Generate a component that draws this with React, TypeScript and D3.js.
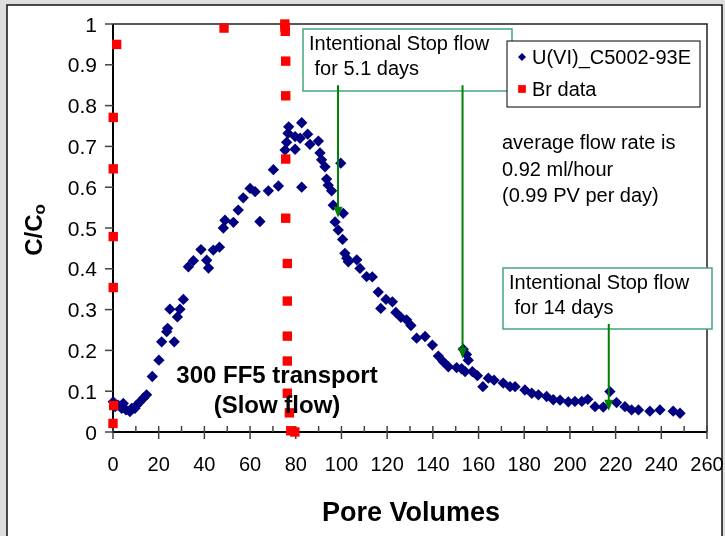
import React, { useRef, useEffect } from 'react';
import * as d3 from 'd3';

// U(VI)_C5002-93E breakthrough (pore volumes, C/Co)
const uPoreVolumes = [
    0.1, 0.9, 2.2, 3.8, 4.5, 5.7, 7.4, 8.2, 9.6, 10.4, 11.8, 13.3, 14.7, 17.2, 20.1, 21.3,
    23.5, 23.9, 24.9, 26.8, 28.2, 29.3, 30.8, 33.0, 35.2, 38.5, 41.0, 41.8, 43.9, 46.6, 48.3,
    49.0, 52.7, 54.8, 57.0, 60.0, 62.2, 64.3, 68.0, 70.2, 72.4, 75.3, 76.0, 76.6, 76.9, 79.7,
    79.7, 81.9, 82.6, 82.6, 85.2, 86.2, 89.9, 90.6, 91.3, 92.8, 93.5, 94.2, 95.7, 96.4, 97.2,
    98.6, 99.7, 100.5, 100.8, 101.5, 102.3, 103.0, 106.7, 108.1, 111.0, 113.5, 116.1, 117.2,
    119.5, 122.3, 123.8, 126.0, 128.5, 130.4, 132.9, 136.6, 139.8, 142.4, 144.6, 146.8, 150.4,
    152.6, 153.3, 154.1, 154.7, 155.5, 157.3, 159.5, 161.9, 164.3, 166.8, 170.8, 173.8, 176.0,
    180.3, 183.3, 186.2, 189.8, 192.7, 195.7, 199.3, 202.2, 205.2, 207.8, 211.0, 214.6, 217.5,
    220.4, 224.1, 227.0, 230.0, 235.0, 239.4, 245.2, 248.2
];
const uConc = [
    0.074, 0.062, 0.066, 0.058, 0.070, 0.054, 0.050, 0.058, 0.058, 0.066, 0.074, 0.083, 0.091, 0.136, 0.176, 0.221,
    0.246, 0.254, 0.301, 0.221, 0.282, 0.301, 0.325, 0.405, 0.420, 0.447, 0.421, 0.402, 0.446, 0.453, 0.500,
    0.519, 0.514, 0.544, 0.574, 0.597, 0.589, 0.516, 0.591, 0.643, 0.603, 0.691, 0.710, 0.732, 0.748, 0.724,
    0.693, 0.720, 0.758, 0.600, 0.730, 0.705, 0.713, 0.684, 0.667, 0.650, 0.620, 0.605, 0.591, 0.556, 0.515,
    0.495, 0.659, 0.472, 0.536, 0.438, 0.426, 0.417, 0.422, 0.401, 0.381, 0.380, 0.343, 0.303,
    0.325, 0.319, 0.293, 0.281, 0.275, 0.261, 0.230, 0.234, 0.213, 0.186, 0.172, 0.160, 0.158,
    0.155, 0.203, 0.148, 0.190, 0.176, 0.148, 0.138, 0.111, 0.132, 0.127, 0.120, 0.111, 0.111,
    0.103, 0.095, 0.091, 0.087, 0.079, 0.078, 0.074, 0.075, 0.075, 0.080, 0.062, 0.061, 0.099,
    0.072, 0.062, 0.054, 0.054, 0.051, 0.054, 0.051, 0.046
];

// Br tracer
const brPoreVolumes = [0, 0.3, 0.1, 0.1, 0.1, 0.1, 1.6, 48.6, 75.2, 75.3, 75.4, 75.6, 75.6, 75.6, 75.6,
    76.3, 76.3, 76.3, 76.3, 76.3, 77.2, 77.8, 79.6];
const brConc = [0.021, 0.065, 0.354, 0.479, 0.645, 0.771, 0.950, 0.990, 1.000, 0.992, 0.982, 0.909, 0.824, 0.669, 0.524,
    0.413, 0.321, 0.235, 0.174, 0.095, 0.047, 0.003, 0.0];

const xTickValues = [0, 20, 40, 60, 80, 100, 120, 140, 160, 180, 200, 220, 240, 260];
const xMinorValues = [10, 30, 50, 70, 90, 110, 130, 150, 170, 190, 210, 230, 250];
const yTickValues = [0, 0.1, 0.2, 0.3, 0.4, 0.5, 0.6, 0.7, 0.8, 0.9, 1];

// stop-flow arrows: pore volume, start C/Co, tip C/Co
const arrowPV = [98.5, 153, 217];
const arrowFrom = [0.85, 0.85, 0.265];
const arrowTo = [0.525, 0.18, 0.052];

const FONT = "'Liberation Sans', Arial, sans-serif";

const App = () => {
    const W = 725, H = 536;
    const plot = { left: 113, right: 707, top: 24, bottom: 432 };

    const xScale = d3.scaleLinear().domain([0, 260]).range([plot.left, plot.right]);
    const yScale = d3.scaleLinear().domain([0, 1]).range([plot.bottom, plot.top]);

    const ref = useRef(null);
    useEffect(() => {
        const svg = d3.select(ref.current);
        svg.selectAll("*").remove();

        svg.append("rect").attr("width", W).attr("height", H).style("fill", "#dedede");
        svg.append("rect").attr("x", 7).attr("y", 5).attr("width", 715).attr("height", 545)
            .style("fill", "white").style("stroke", "#111").style("stroke-width", 1.5);

        // plot frame
        svg.append("path")
            .attr("d", `M${plot.left},${plot.top}H${plot.right}V${plot.bottom}`)
            .style("fill", "none").style("stroke", "#222").style("stroke-width", 1.5);

        // y axis
        svg.append("line").attr("x1", plot.left).attr("x2", plot.left)
            .attr("y1", plot.top).attr("y2", plot.bottom + 1)
            .style("stroke", "black").style("stroke-width", 2);
        svg.selectAll(".ytick").data(yTickValues).enter().append("line")
            .attr("x1", plot.left - 8).attr("x2", plot.left)
            .attr("y1", d => yScale(d)).attr("y2", d => yScale(d))
            .style("stroke", "#444").style("stroke-width", 1.5);
        svg.selectAll(".ylab").data(yTickValues).enter().append("text")
            .attr("x", 97).attr("y", d => yScale(d) + 7.5)
            .attr("text-anchor", "end")
            .style("font-family", FONT).style("font-size", "21px").style("fill", "black")
            .text(d => d3.format("")(+d.toFixed(1)));

        // x axis
        svg.append("line").attr("x1", plot.left).attr("x2", plot.right)
            .attr("y1", plot.bottom).attr("y2", plot.bottom)
            .style("stroke", "black").style("stroke-width", 2);
        svg.selectAll(".xtick").data(xTickValues).enter().append("line")
            .attr("x1", d => xScale(d)).attr("x2", d => xScale(d))
            .attr("y1", plot.bottom - 6).attr("y2", plot.bottom + 7)
            .style("stroke", "#444").style("stroke-width", 1.5);
        svg.selectAll(".xminor").data(xMinorValues).enter().append("line")
            .attr("x1", d => xScale(d)).attr("x2", d => xScale(d))
            .attr("y1", plot.bottom - 6).attr("y2", plot.bottom)
            .style("stroke", "#444").style("stroke-width", 1.5);
        svg.selectAll(".xlab").data(xTickValues).enter().append("text")
            .attr("x", d => xScale(d)).attr("y", 471)
            .attr("text-anchor", "middle")
            .style("font-family", FONT).style("font-size", "20px").style("fill", "black")
            .text(d => d);

        // titles
        svg.append("text").attr("x", 411).attr("y", 521).attr("text-anchor", "middle")
            .style("font-family", FONT).style("font-size", "27px").style("font-weight", "bold")
            .text("Pore Volumes");
        const yt = svg.append("text")
            .attr("transform", "translate(42,230) rotate(-90)")
            .attr("text-anchor", "middle")
            .style("font-family", FONT).style("font-size", "24px").style("font-weight", "bold");
        yt.append("tspan").text("C/C");
        yt.append("tspan").attr("dy", 3).style("font-size", "17px").text("o");

        // U(VI) diamonds
        const diamond = d3.symbol().type(d3.symbolSquare).size(64);
        svg.selectAll(".u").data(uPoreVolumes).enter().append("path")
            .attr("d", diamond)
            .attr("transform", (d, i) => `translate(${xScale(d)},${yScale(uConc[i])}) rotate(45)`)
            .style("fill", "#000080");

        // Br squares
        const square = d3.symbol().type(d3.symbolSquare).size(88);
        svg.selectAll(".br").data(brPoreVolumes).enter().append("path")
            .attr("d", square)
            .attr("transform", (d, i) => `translate(${xScale(d)},${yScale(brConc[i])})`)
            .style("fill", "#ff0000");

        // annotation text
        const t1 = svg.append("text").style("font-family", FONT).style("font-size", "24px")
            .style("font-weight", "bold").attr("text-anchor", "middle");
        t1.append("tspan").attr("x", 277).attr("y", 383).text("300 FF5 transport");
        t1.append("tspan").attr("x", 277).attr("y", 413).text("(Slow flow)");

        const t2 = svg.append("text").style("font-family", FONT).style("font-size", "20px");
        ["average flow rate is", "0.92 ml/hour", "(0.99 PV per day)"].forEach((s, i) => {
            t2.append("tspan").attr("x", 502).attr("y", 149 + i * 26.5).text(s);
        });

        // stop-flow boxes
        const boxes = [
            { x: 303, y: 29, w: 209, h: 62, lines: ["Intentional Stop flow", " for 5.1 days"] },
            { x: 503, y: 268, w: 209, h: 61, lines: ["Intentional Stop flow", " for 14 days"] }
        ];
        boxes.forEach(b => {
            svg.append("rect").attr("x", b.x).attr("y", b.y).attr("width", b.w).attr("height", b.h)
                .style("fill", "white").style("stroke", "#45a57a").style("stroke-width", 1.5);
            const tt = svg.append("text").style("font-family", FONT).style("font-size", "20px")
                .style("white-space", "pre").attr("xml:space", "preserve");
            b.lines.forEach((s, i) => {
                tt.append("tspan").attr("x", b.x + 6).attr("y", b.y + 21 + i * 25).text(s);
            });
        });

        // arrows
        arrowPV.forEach((pv, i) => {
            const x = xScale(pv), y0 = yScale(arrowFrom[i]), y1 = yScale(arrowTo[i]);
            svg.append("line").attr("x1", x).attr("x2", x).attr("y1", y0).attr("y2", y1 - 8)
                .style("stroke", "#008000").style("stroke-width", 2);
            svg.append("path").attr("d", `M${x - 4.5},${y1 - 11}L${x + 4.5},${y1 - 11}L${x},${y1}Z`)
                .style("fill", "#008000");
        });

        // legend
        svg.append("rect").attr("x", 507).attr("y", 41).attr("width", 193).attr("height", 66)
            .style("fill", "white").style("stroke", "black").style("stroke-width", 1);
        svg.append("path").attr("d", d3.symbol().type(d3.symbolSquare).size(32))
            .attr("transform", "translate(522,57) rotate(45)").style("fill", "#000080");
        svg.append("path").attr("d", d3.symbol().type(d3.symbolSquare).size(60))
            .attr("transform", "translate(522,89)").style("fill", "#ff0000");
        svg.append("text").attr("x", 532).attr("y", 64).style("font-family", FONT).style("font-size", "20px")
            .text("U(VI)_C5002-93E");
        svg.append("text").attr("x", 532).attr("y", 96).style("font-family", FONT).style("font-size", "20px")
            .text("Br data");
    }, []);

    return (
        <div style={{ position: "fixed", left: 0, top: 0 }}>
            <svg ref={ref} width={W} height={H} viewBox={`0 0 ${W} ${H}`} style={{ display: "block" }}></svg>
        </div>
    );
};

export default App;
